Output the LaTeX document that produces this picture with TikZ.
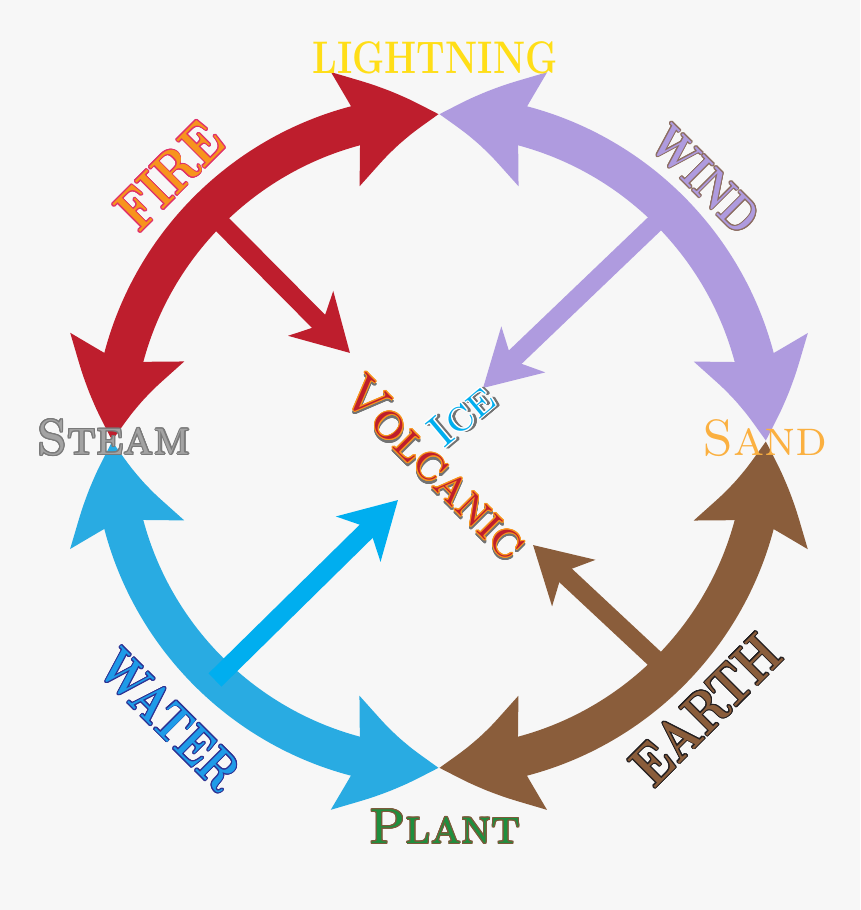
\documentclass[tikz,border=0pt]{standalone}
\usepackage{tikz}
\usepackage{contour}
\usetikzlibrary{arrows.meta,bending}

\definecolor{bgGray}{HTML}{F7F7F7}
\definecolor{fireRed}{HTML}{BE1E2D}
\definecolor{windLila}{HTML}{AF9BDF}
\definecolor{waterBlue}{HTML}{29ABE2}
\definecolor{iceBlue}{HTML}{00AEEF}
\definecolor{earthBrown}{HTML}{8A5D3B}
\definecolor{lightYellow}{HTML}{FFDE17}
\definecolor{fireOrange}{HTML}{F7941D}
\definecolor{firePink}{HTML}{E0306A}
\definecolor{windLine}{HTML}{8C6D62}
\definecolor{steamGray}{HTML}{A3A3A3}
\definecolor{steamLine}{HTML}{7A7A7A}
\definecolor{sandOrange}{HTML}{FBB040}
\definecolor{waterText}{HTML}{1E9BE8}
\definecolor{waterLine}{HTML}{2E3192}
\definecolor{earthLine}{HTML}{231F20}
\definecolor{plantGreen}{HTML}{1E8F3E}
\definecolor{plantLine}{HTML}{7B5A3A}

\contourlength{0.6pt}
\newcommand{\narrow}[1]{\scalebox{0.8}[1]{#1}}
\newcommand{\shadowed}[2]{\rlap{\kern1.1pt\raisebox{-1.1pt}{\color{black!55}\contour{black!55}{#2}}}\contour{#1}{#2}}

\begin{document}
\begin{tikzpicture}[x=0.02cm,y=0.02cm,
  bighead/.tip={Stealth[length=1.9cm,width=2.24cm,inset=0.3cm,bend]},
  smallhead/.tip={Stealth[length=1.1cm,width=1.24cm,inset=0.3cm]},
  band/.style={line width=0.8cm,arrows={bighead-bighead}},
  ray/.style={line width=0.37cm,arrows={-smallhead}},
  lbl/.style={inner sep=0pt},
  big/.style={lbl,font=\bfseries\fontsize{#1}{#1}\selectfont},
  sc/.style={lbl,font=\scshape\fontsize{#1}{#1}\selectfont}]
\useasboundingbox (0,0) rectangle (860,910);
\fill[bgGray] (0,0) rectangle (860,910);

\coordinate (c) at (439,469);
\coordinate (t) at (439,795);
\coordinate (l) at (113,469);
\coordinate (b) at (439,143);
\coordinate (r) at (765,469);

\draw[band,fireRed] (l) arc[start angle=180,end angle=90,radius=326];
\draw[band,windLila] (t) arc[start angle=90,end angle=0,radius=326];
\draw[band,earthBrown] (r) arc[start angle=0,end angle=-90,radius=326];
\draw[band,waterBlue] (b) arc[start angle=270,end angle=180,radius=326];

\coordinate (fo) at (208,700);
\coordinate (fi) at (350,557);
\coordinate (wo) at (669,700);
\coordinate (wi) at (483,522);
\coordinate (ao) at (215,230);
\coordinate (ai) at (398,410);
\coordinate (eo) at (669,238);
\coordinate (ei) at (533,365);
\draw[ray,fireRed] (fo) -- (fi);
\draw[ray,windLila] (wo) -- (wi);
\draw[ray,iceBlue] (ao) -- (ai);
\draw[ray,earthBrown] (eo) -- (ei);

\node[big=26,text=lightYellow] (light) at (435,852) {\narrow{LIGHTNING}};
\node[big=33,text=fireOrange,rotate=45] (fire) at (170,734) {\narrow{\contour{firePink}{FIRE}}};
\node[big=28,text=windLila,rotate=-45] (wind) at (705,730) {\narrow{\contour{windLine}{WIND}}};
\node[sc=28,text=steamGray] (steam) at (114,472) {\contour{steamLine}{Steam}};
\node[sc=29,text=sandOrange] (sand) at (765,472) {Sand};
\node[big=30,text=waterText,rotate=-45] (water) at (170,190) {\narrow{\contour{waterLine}{WATER}}};
\node[big=33,text=earthBrown,rotate=45] (earth) at (706,200) {\narrow{\contour{earthLine}{EARTH}}};
\node[sc=28,text=plantGreen] (plant) at (445,83) {\contour{plantLine}{Plant}};
\node[sc=29,text=fireRed,rotate=-45] (volc) at (435,442) {\shadowed{fireOrange}{Volcanic}};
\node[sc=26,text=iceBlue,rotate=40] (ice) at (462,494) {\shadowed{white}{Ice}};
\end{tikzpicture}
\end{document}
